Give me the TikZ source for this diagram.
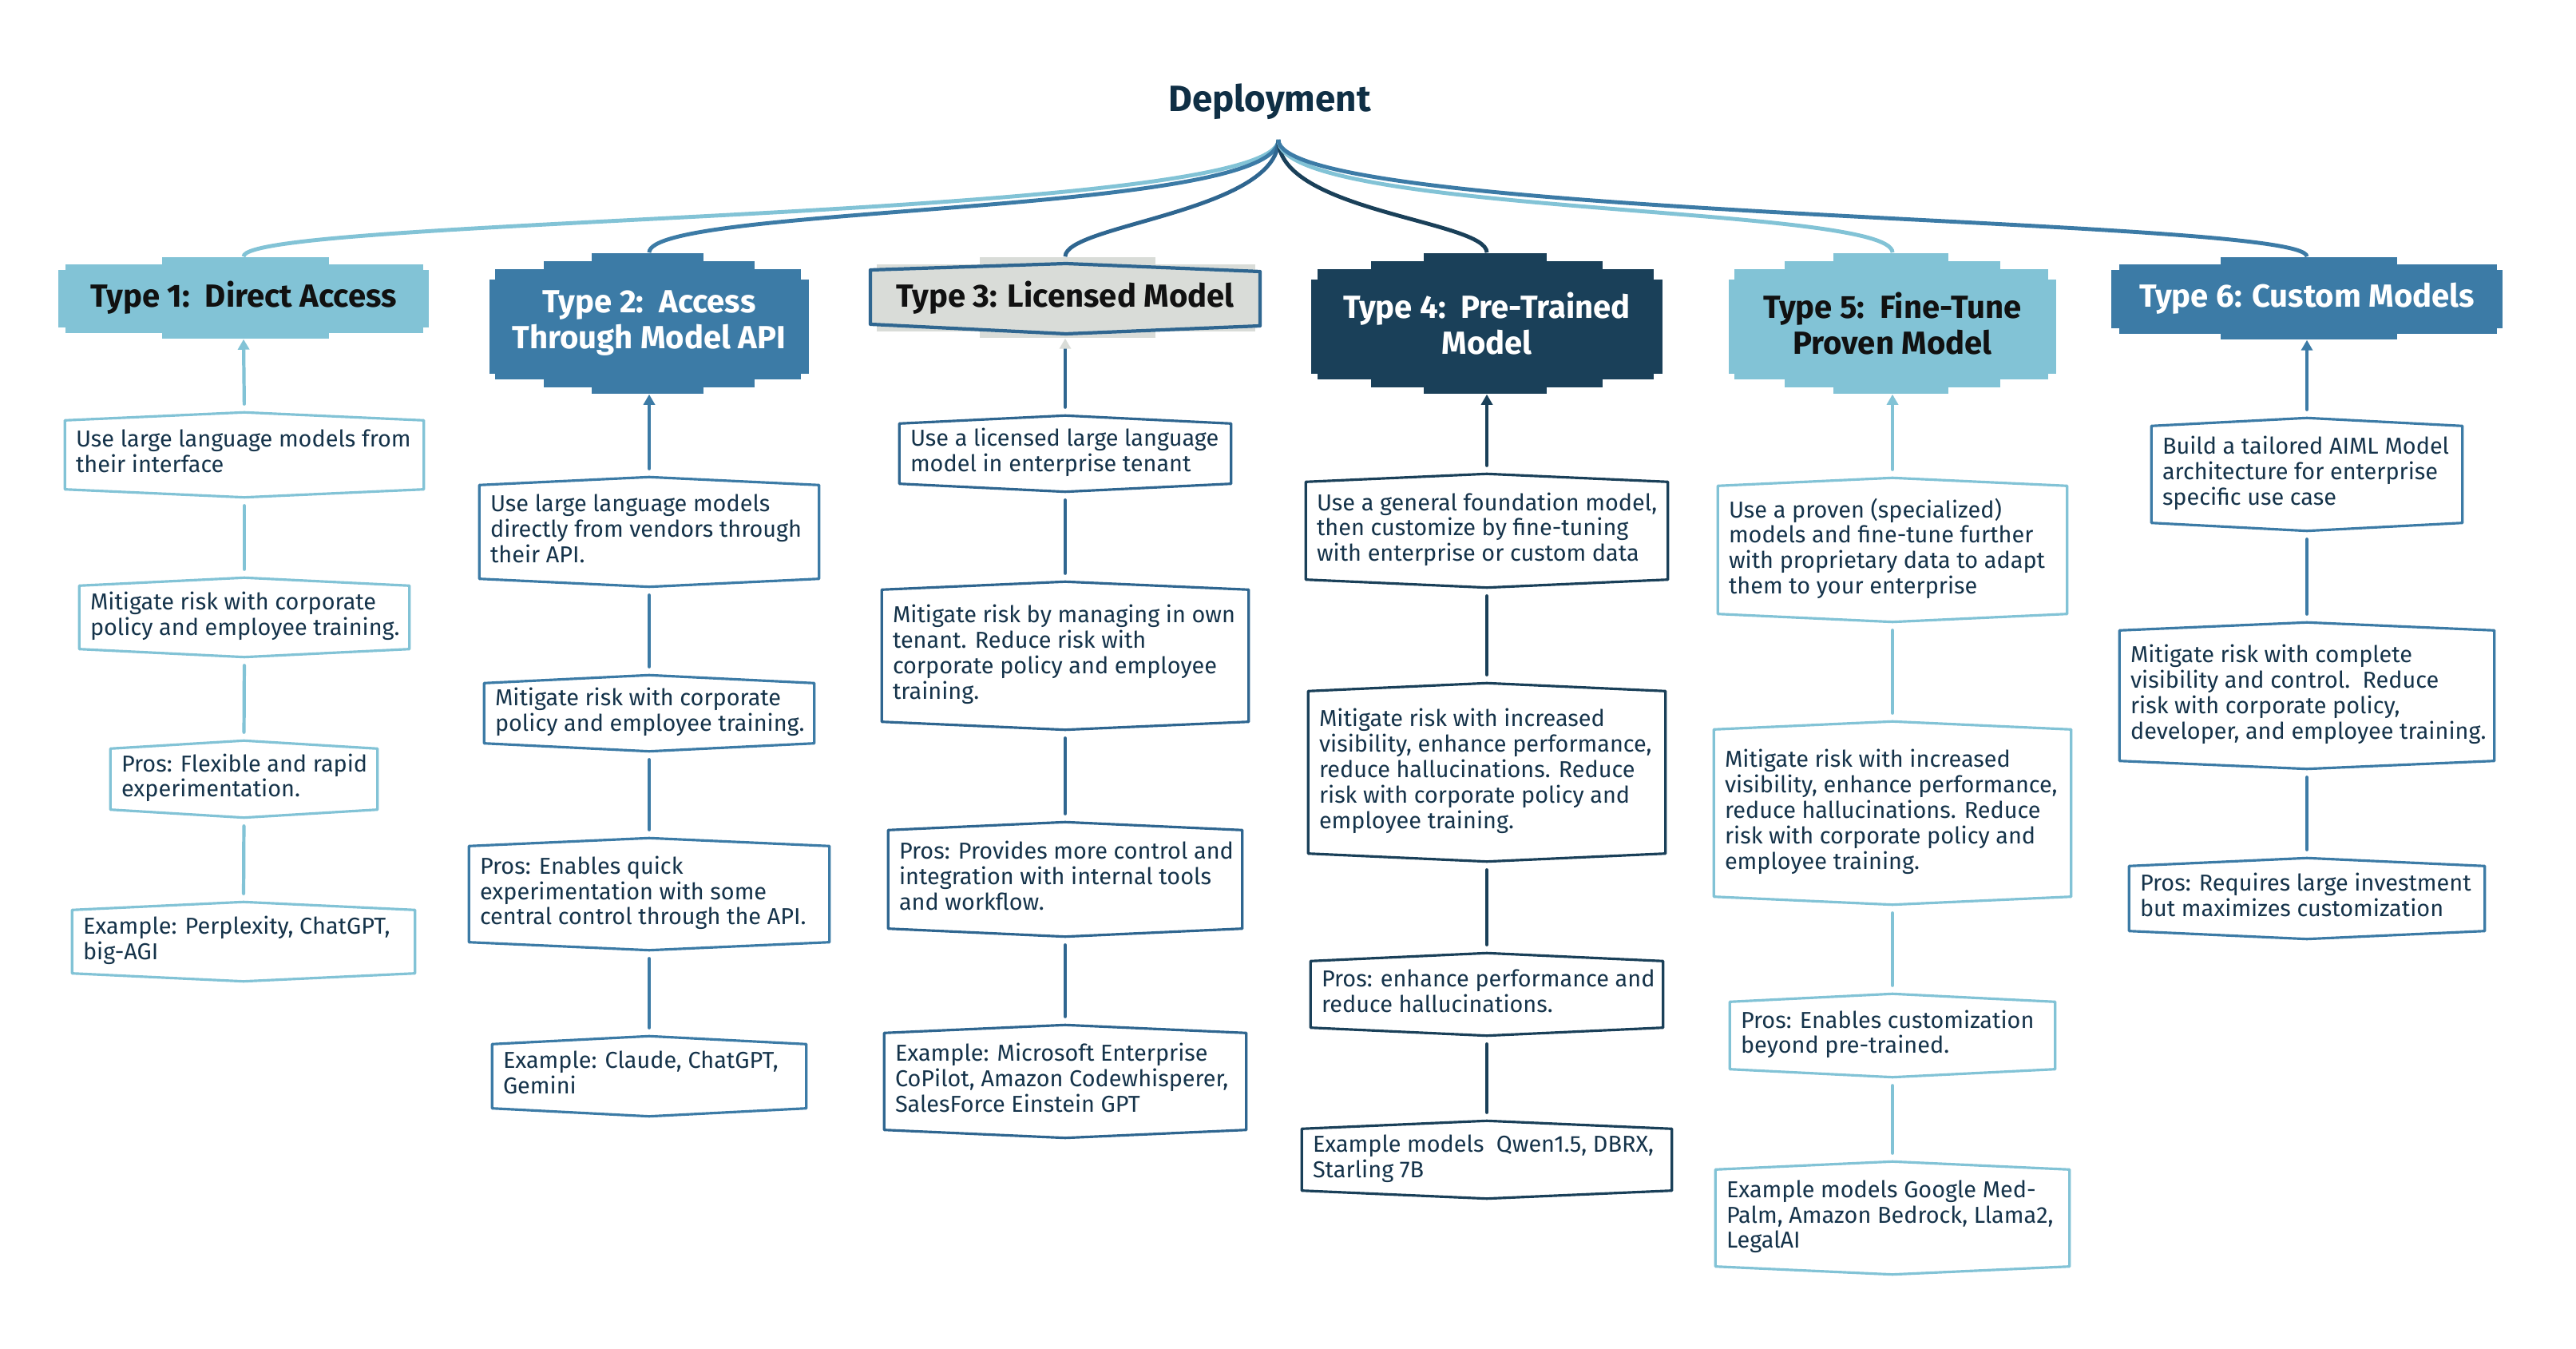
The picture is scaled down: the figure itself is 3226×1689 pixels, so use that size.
\documentclass[tikz,border=0pt]{standalone}
\usepackage{fontspec}
\setmainfont{Fira Sans}
\usetikzlibrary{arrows.meta}
\definecolor{lblue}{HTML}{82C3D6}
\definecolor{mblue}{HTML}{3C7BA6}
\definecolor{tblue}{HTML}{2F6690}
\definecolor{dblue}{HTML}{1A4059}
\definecolor{lgray}{HTML}{D9DCD8}
\definecolor{ink}{HTML}{15334A}
\definecolor{titleink}{HTML}{0F2F45}
\definecolor{hblack}{HTML}{111111}
\tikzset{
  boxtext/.style={inner xsep=0.13cm, inner ysep=0pt, font=\fontsize{8.2}{9}\selectfont, text=ink},
  boxline/.style={line width=0.9pt, line join=round},
  conn/.style={line width=1.2pt, line cap=round, shorten <=3pt, shorten >=3pt},
  hdrtext/.style={font=\bfseries\fontsize{11.4}{12.8}\selectfont, align=center, inner sep=0pt},
  fan/.style={line width=1.4pt},
  uptip/.style={-{Triangle[length=1.3mm,width=1.4mm]}, shorten >=0pt},
}
\newcommand\cbox[7]{%
  \pgfmathsetmacro\cbw{(#4-#2)*0.01-0.26}%
  \pgfmathsetmacro\cbh{(#5-#3)*0.01}%
  \node[boxtext, minimum height=\cbh cm] (#1) at ({(#2+#4)/2},{(#3+#5)/2})
     {\makebox[\cbw cm][l]{\begin{tabular}{@{}l@{}}#7\end{tabular}}};
  \draw[boxline, draw=#6] ([yshift=-1mm]#1.north west) -- (#1.north) -- ([yshift=-1mm]#1.north east)
     -- ([yshift=1mm]#1.south east) -- (#1.south) -- ([yshift=1mm]#1.south west) -- cycle;
}
\newcommand\hdrthree[5]{%
  \pgfmathsetmacro\hw{#2-#1}%
  \fill[#5] (#1,{#3+16}) rectangle (#2,{#4-14});
  \fill[#5] ({#1+0.02*\hw},{#3+9}) rectangle ({#2-0.015*\hw},{#4-7});
  \fill[#5] ({#1+0.28*\hw},#3) rectangle ({#1+0.73*\hw},#4);
}
\newcommand\hdrfour[5]{%
  \pgfmathsetmacro\hw{#2-#1}%
  \fill[#5] (#1,{#3+33}) rectangle (#2,{#4-25});
  \fill[#5] ({#1+0.018*\hw},{#3+20}) rectangle ({#2-0.025*\hw},{#4-18});
  \fill[#5] ({#1+0.17*\hw},{#3+10}) rectangle ({#1+0.83*\hw},{#4-8});
  \fill[#5] ({#1+0.32*\hw},#3) rectangle ({#1+0.67*\hw},#4);
}
\begin{document}
\begin{tikzpicture}[x=0.01cm, y=-0.01cm]
\fill[white] (0,0) rectangle (3226,1689);
\useasboundingbox (0,0) rectangle (3226,1689);

% title
\node[font=\bfseries\fontsize{13}{15}\selectfont, text=titleink, inner sep=0pt] (title) at (1590,127) {Deployment};
\coordinate (root) at (1601,175);

% headers
\hdrthree{73}{537}{322}{424}{lblue}
\node[hdrtext, text=hblack, minimum height=1.02cm] (h1) at (305,373) {Type 1:\ \ Direct Access};

\hdrfour{613}{1013}{317}{493}{mblue}
\node[hdrtext, text=white, minimum height=1.76cm] (h2) at (813,405) {Type 2:\ \ Access\\Through Model API};

\fill[lgray] (1098,331) rectangle (1572,415);
\fill[lgray] (1227,322) rectangle (1447,423);
\filldraw[fill=lgray, draw=tblue, line width=1.2pt, line join=round] (1090,338) -- (1335,330) -- (1578,340) -- (1578,408) -- (1335,418) -- (1090,406) -- cycle;
\node[hdrtext, text=hblack, minimum height=1.01cm] (h3) at (1334,372.5) {Type 3: Licensed Model};

\hdrfour{1642}{2082}{317}{493}{dblue}
\node[hdrtext, text=white, minimum height=1.76cm] (h4) at (1862,405) {Type 4:\ \ Pre-Trained\\Model};

\hdrfour{2165}{2575}{317}{493}{lblue}
\node[hdrtext, text=hblack, minimum height=1.76cm] (h5) at (2370,405) {Type 5:\ \ Fine-Tune\\Proven Model};

\hdrthree{2644}{3134}{322}{425}{mblue}
\node[hdrtext, text=white, minimum height=1.03cm] (h6) at (2889,373.5) {Type 6: Custom Models};

% fan connectors
\draw[fan, lblue] (root) .. controls +(0,100) and +(0,-50) .. (h1.north);
\draw[fan, mblue] (root) .. controls +(0,95) and +(0,-60) .. (h2.north);
\draw[fan, tblue] (root) .. controls +(0,90) and +(0,-40) .. (h3.north);
\draw[fan, dblue] (root) .. controls +(0,90) and +(0,-40) .. (h4.north);
\draw[fan, lblue] (root) .. controls +(0,95) and +(0,-60) .. (h5.north);
\draw[fan, mblue] (root) .. controls +(0,100) and +(0,-50) .. (h6.north);

% Type 1
\cbox{b11}{82}{517}{530}{622}{lblue}{Use large language models from\\their interface}
\cbox{b12}{100}{724}{512}{822}{lblue}{Mitigate risk with corporate\\policy and employee training.}
\cbox{b13}{139}{928}{472}{1023}{lblue}{Pros: Flexible and rapid\\experimentation.}
\cbox{b14}{91}{1130}{519}{1228}{lblue}{Example: Perplexity, ChatGPT,\\big-AGI}
\draw[conn, uptip, lblue] (b11.north) -- (h1.south);
\draw[conn, lblue] (b11.south) -- (b12.north);
\draw[conn, lblue] (b12.south) -- (b13.north);
\draw[conn, lblue] (b13.south) -- (b14.north);

% Type 2
\cbox{b21}{601}{598}{1025}{734}{mblue}{Use large language models\\directly from vendors through\\their API.}
\cbox{b22}{607}{846}{1019}{940}{mblue}{Mitigate risk with corporate\\policy and employee training.}
\cbox{b23}{588}{1050}{1038}{1189}{mblue}{Pros: Enables quick\\experimentation with some\\central control through the API.}
\cbox{b24}{617}{1298}{1009}{1397}{mblue}{Example: Claude, ChatGPT,\\Gemini}
\draw[conn, uptip, mblue] (b21.north) -- (h2.south);
\draw[conn, mblue] (b21.south) -- (b22.north);
\draw[conn, mblue] (b22.south) -- (b23.north);
\draw[conn, mblue] (b23.south) -- (b24.north);

% Type 3
\cbox{b31}{1127}{521}{1541}{615}{tblue}{Use a licensed large language\\model in enterprise tenant}
\cbox{b32}{1105}{729}{1563}{913}{tblue}{Mitigate risk by managing in own\\tenant. Reduce risk with\\corporate policy and employee\\training.}
\cbox{b33}{1113}{1030}{1555}{1172}{tblue}{Pros: Provides more control and\\integration with internal tools\\and workflow.}
\cbox{b34}{1108}{1284}{1560}{1424}{tblue}{Example: Microsoft Enterprise\\CoPilot, Amazon Codewhisperer,\\SalesForce Einstein GPT}
\draw[conn, tblue, -{Triangle[length=1.3mm,width=1.4mm,color=lgray]}, shorten >=0pt] (b31.north) -- (h3.south);
\draw[conn, tblue] (b31.south) -- (b32.north);
\draw[conn, tblue] (b32.south) -- (b33.north);
\draw[conn, tblue] (b33.south) -- (b34.north);

% Type 4
\cbox{b41}{1636}{594}{2088}{735}{dblue}{Use a general foundation model,\\then customize by fine-tuning\\with enterprise or custom data}
\cbox{b42}{1639}{856}{2085}{1078}{dblue}{Mitigate risk with increased\\visibility, enhance performance,\\reduce hallucinations. Reduce\\risk with corporate policy and\\employee training.}
\cbox{b43}{1642}{1194}{2082}{1296}{dblue}{Pros: enhance performance and\\reduce hallucinations.}
\cbox{b44}{1631}{1404}{2093}{1500}{dblue}{Example models\ \ Qwen1.5, DBRX,\\Starling 7B}
\draw[conn, uptip, dblue] (b41.north) -- (h4.south);
\draw[conn, dblue] (b41.south) -- (b42.north);
\draw[conn, dblue] (b42.south) -- (b43.north);
\draw[conn, dblue] (b43.south) -- (b44.north);

% Type 5
\cbox{b51}{2152}{599}{2588}{778}{lblue}{Use a proven (specialized)\\models and fine-tune further\\with proprietary data to adapt\\them to your enterprise}
\cbox{b52}{2147}{904}{2593}{1132}{lblue}{Mitigate risk with increased\\visibility, enhance performance,\\reduce hallucinations. Reduce\\risk with corporate policy and\\employee training.}
\cbox{b53}{2167}{1245}{2573}{1348}{lblue}{Pros: Enables customization\\beyond pre-trained.}
\cbox{b54}{2149}{1455}{2591}{1595}{lblue}{Example models Google Med-\\Palm, Amazon Bedrock, Llama2,\\LegalAI}
\draw[conn, uptip, lblue] (b51.north) -- (h5.south);
\draw[conn, lblue] (b51.south) -- (b52.north);
\draw[conn, lblue] (b52.south) -- (b53.north);
\draw[conn, lblue] (b53.south) -- (b54.north);

% Type 6
\cbox{b61}{2695}{524}{3083}{664}{mblue}{Build a tailored AIML Model\\architecture for enterprise\\specific use case}
\cbox{b62}{2655}{780}{3123}{962}{mblue}{Mitigate risk with complete\\visibility and control.\ \ Reduce\\risk with corporate policy,\\developer, and employee training.}
\cbox{b63}{2667}{1075}{3111}{1175}{mblue}{Pros: Requires large investment\\but maximizes customization}
\draw[conn, uptip, mblue] (b61.north) -- (h6.south);
\draw[conn, mblue] (b61.south) -- (b62.north);
\draw[conn, mblue] (b62.south) -- (b63.north);
\end{tikzpicture}
\end{document}
